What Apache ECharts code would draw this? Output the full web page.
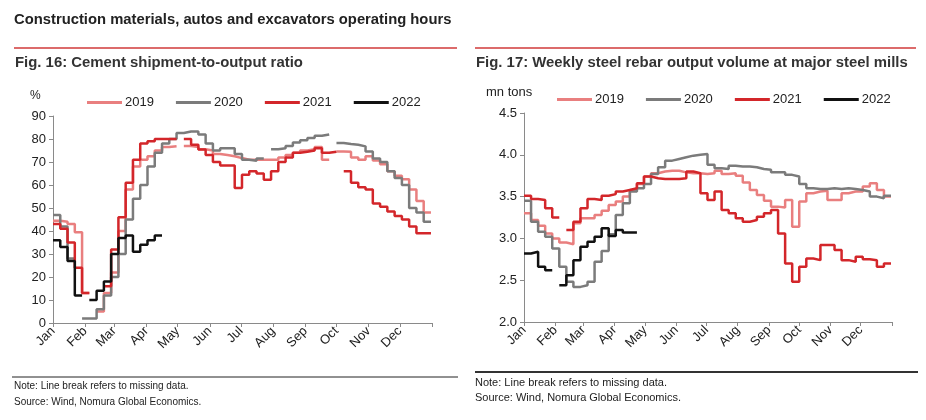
<!DOCTYPE html>
<html><head><meta charset="utf-8">
<script src="https://cdn.jsdelivr.net/npm/echarts@6/dist/echarts.min.js"></script>
<style>html,body{margin:0;padding:0;background:#fff}#c{width:926px;height:420px}</style>
</head><body><div id="c"></div>
<script>
// ---- data ----
const monthNames = ['Jan','Feb','Mar','Apr','May','Jun','Jul','Aug','Sep','Oct','Nov','Dec'];
const monthStartDays = [0,31,59,90,120,151,181,212,243,273,304,334,365];
const seriesNames = ['2019','2020','2021','2022'];
const seriesColors = ['#e97f7f','#7b7b7b','#d3262a','#111111'];

// Fig. 16: cement shipment-to-output ratio (%), weekly (null = missing)
const cement2019 = [44.5,44,43,39.5,13,null,5,13,22,40,58,68,71,72.5,75,76.5,76.8,null,77,76.5,75.5,75,73.5,73,72.5,71.7,71,71,71,71,71,72,73,74,75,75.5,76.5,71,null,74.6,74.5,72,71,72.5,70.6,69,66,64,62.5,58,53,48];
const cement2020 = [47,42,28,null,2,2,6,12,20,30,45,54,60,68,74,78,80,82.6,83.3,83.3,82,78,75,76,76,73.5,71,70.5,71.5,null,75.5,76,77,78.5,79.5,80.4,81.4,82,null,78.3,77.8,77.5,76.8,74.6,71.5,70,66,63,60,50,48,44];
const cement2021 = [43,41,35,24,13,null,null,16,32,46,61,71,78,79,80,80,80,null,80,77.5,75.4,73,70,68.5,68.5,58.7,64.5,66,65,62.3,66,70,72,74,74.5,75,76,74,74.5,null,66,61,59,58,52,50.5,48.5,46.5,45,42,39,39];
const cement2022 = [36,33,27,12,null,10,14,18,30,37,38,31,34,36,38];

// Fig. 17: weekly steel rebar output (mn tons)
const rebar2019 = [3.3,3.22,3.15,3.06,3.0,2.95,2.93,3.18,3.24,3.24,3.28,3.33,3.4,3.44,3.5,3.58,3.65,3.74,3.78,3.8,3.81,3.81,3.79,3.78,3.78,3.77,3.78,3.81,3.77,3.78,3.75,3.67,3.58,3.52,3.45,3.38,3.37,3.46,3.14,3.44,3.54,3.56,3.57,3.46,3.46,3.54,3.56,3.56,3.62,3.66,3.58,3.5];
const rebar2020 = [3.45,3.2,3.08,3.02,2.88,2.66,2.48,2.42,2.44,2.48,2.72,2.85,3.05,3.28,3.42,3.56,3.6,3.65,3.77,3.85,3.93,3.95,3.97,3.99,4.0,4.01,3.88,3.84,3.83,3.87,3.86,3.86,3.85,3.83,3.82,3.79,3.79,3.76,3.74,3.65,3.6,3.59,3.59,3.6,3.59,3.6,3.59,3.58,3.56,3.5,3.48,3.51];
const rebar2021 = [3.51,3.47,3.46,3.36,3.25,null,3.1,3.2,3.36,3.47,3.46,3.51,3.53,3.56,3.58,3.6,3.66,3.74,3.72,3.71,3.71,3.71,3.72,3.8,3.78,3.54,3.46,3.56,3.34,3.3,3.24,3.2,3.22,3.26,3.3,3.34,3.06,2.7,2.48,2.66,2.76,2.74,2.92,2.92,2.86,2.74,2.72,2.78,2.75,2.74,2.66,2.7];
const rebar2022 = [2.82,2.84,2.66,2.62,null,2.44,2.56,2.74,2.9,2.96,3.02,3.12,3.03,3.1,3.07,3.07];

const cementSets = [cement2019, cement2020, cement2021, cement2022];
const rebarSets = [rebar2019, rebar2020, rebar2021, rebar2022];

// each weekly value is held for its week (day 7*i to 7*i+7)
function weeklyStep(arr) {
  const out = [];
  arr.forEach((v, i) => {
    if (v === null) { out.push([7 * i, '-']); }
    else { out.push([7 * i, v]); out.push([7 * i + 7, v]); }
  });
  return out;
}

const FONT = "'Liberation Sans', Arial, sans-serif";
const axisColor = '#8a8a8a';

function xAxisFor(gi) {
  return {
    type: 'value', gridIndex: gi, min: 0, max: 365,
    axisLine: { show: true, lineStyle: { color: axisColor, width: 1 } },
    axisTick: { show: true, customValues: monthStartDays, length: 4, lineStyle: { color: axisColor } },
    axisLabel: {
      customValues: monthStartDays.slice(0, 12), rotate: 45, margin: 6,
      fontFamily: FONT, fontSize: 13, color: '#222',
      formatter: v => monthNames[monthStartDays.indexOf(v)]
    },
    splitLine: { show: false }
  };
}
function yAxisFor(gi, min, max, interval, fmt) {
  return {
    type: 'value', gridIndex: gi, min, max, interval,
    axisLine: { show: true, lineStyle: { color: axisColor, width: 1 } },
    axisTick: { show: true, length: 4, lineStyle: { color: axisColor } },
    axisLabel: { fontFamily: FONT, fontSize: 13, color: '#222', margin: 7, formatter: fmt },
    splitLine: { show: false }
  };
}

const series = [];
[cementSets, rebarSets].forEach((sets, gi) => {
  sets.forEach((arr, k) => {
    series.push({
      name: seriesNames[k], type: 'line', xAxisIndex: gi, yAxisIndex: gi,
      data: weeklyStep(arr), showSymbol: false, symbol: 'none', connectNulls: false,
      lineStyle: { color: seriesColors[k], width: 2.5 }, itemStyle: { color: seriesColors[k] },
      z: 2 + k
    });
  });
});

function legendAt(left, top) {
  return {
    data: seriesNames, left, top, orient: 'horizontal', padding: 0,
    icon: 'rect', itemWidth: 35, itemHeight: 3, itemGap: 22,
    textStyle: { fontFamily: FONT, fontSize: 13, color: '#222', padding: [0, 0, 0, -2] },
    selectedMode: false
  };
}

const chart = echarts.init(document.getElementById('c'), null, { renderer: 'canvas' });
chart.setOption({
  animation: false,
  backgroundColor: '#fff',
  textStyle: { fontFamily: FONT },
  grid: [
    { left: 53, top: 116, width: 379, height: 207 },
    { left: 524, top: 113, width: 368, height: 209 }
  ],
  xAxis: [xAxisFor(0), xAxisFor(1)],
  yAxis: [
    yAxisFor(0, 0, 90, 10, v => String(v)),
    yAxisFor(1, 2, 4.5, 0.5, v => v.toFixed(1))
  ],
  legend: [legendAt(87, 96), legendAt(557, 93)],
  series,
  graphic: [
    { type: 'text', left: 14, top: 12, style: { text: 'Construction materials, autos and excavators operating hours', font: 'bold 14.8px ' + FONT, fill: '#222' } },
    { type: 'line', shape: { x1: 14, y1: 48, x2: 457, y2: 48 }, style: { stroke: '#d03a3a', lineWidth: 1.5 } },
    { type: 'line', shape: { x1: 475, y1: 48, x2: 916, y2: 48 }, style: { stroke: '#d03a3a', lineWidth: 1.5 } },
    { type: 'text', left: 15, top: 55, style: { text: 'Fig. 16: Cement shipment-to-output ratio', font: 'bold 14.9px ' + FONT, fill: '#333' } },
    { type: 'text', left: 476, top: 55, style: { text: 'Fig. 17: Weekly steel rebar output volume at major steel mills', font: 'bold 14.9px ' + FONT, fill: '#333' } },
    { type: 'text', left: 30, top: 90, style: { text: '%', font: '12px ' + FONT, fill: '#222' } },
    { type: 'text', left: 486, top: 86, style: { text: 'mn tons', font: '13px ' + FONT, fill: '#222' } },
    { type: 'line', shape: { x1: 12, y1: 377, x2: 458, y2: 377 }, style: { stroke: '#222', lineWidth: 1 } },
    { type: 'line', shape: { x1: 475, y1: 372, x2: 918, y2: 372 }, style: { stroke: '#333', lineWidth: 2 } },
    { type: 'text', left: 14, top: 381, style: { text: 'Note: Line break refers to missing data.', font: '10px ' + FONT, fill: '#222' } },
    { type: 'text', left: 14, top: 397, style: { text: 'Source: Wind, Nomura Global Economics.', font: '10px ' + FONT, fill: '#222' } },
    { type: 'text', left: 475, top: 377, style: { text: 'Note: Line break refers to missing data.', font: '11px ' + FONT, fill: '#222' } },
    { type: 'text', left: 475, top: 392, style: { text: 'Source: Wind, Nomura Global Economics.', font: '11px ' + FONT, fill: '#222' } }
  ]
});
</script></body></html>
